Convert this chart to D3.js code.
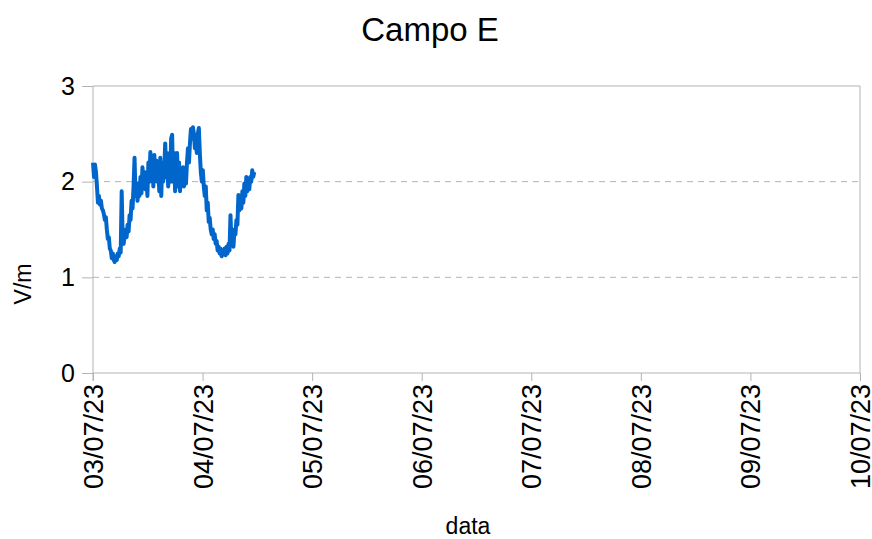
<!DOCTYPE html>
<html>
<head>
<meta charset="utf-8">
<script src="https://cdn.jsdelivr.net/npm/d3@7"></script>
<style>
  body { margin: 0; background: #fff; }
  svg text { font-family: "Liberation Sans", Arial, sans-serif; fill: #000; }
</style>
</head>
<body>
<svg id="chart" width="872" height="539"></svg>
<script>
// logger start and sampling step (minutes)
const startTime = new Date(2023, 6, 3, 0, 0);
const stepMinutes = 13;

// field values V/m, one per sample
const values = [
  2.2, 2.05, 2.18, 2.1, 1.95, 1.78, 1.85, 1.76, 1.8, 1.72,
  1.7, 1.66, 1.6, 1.63, 1.5, 1.4, 1.42, 1.3, 1.28, 1.2,
  1.25, 1.18, 1.16, 1.22, 1.18, 1.25, 1.22, 1.3, 1.26, 1.9,
  1.4, 1.35, 1.45, 1.5, 1.42, 1.55, 1.48, 1.65, 1.6, 1.8,
  1.72, 1.95, 2.25, 1.85, 1.92, 1.8, 1.98, 1.85, 2.05, 1.88,
  2.15, 2.0, 2.1, 1.92, 2.05, 1.85, 2.2, 2.0, 2.31, 2.1,
  2.2, 1.95, 2.28, 2.05, 2.22, 2.0, 2.15, 1.9, 2.25, 1.85,
  2.2, 2.0, 2.12, 2.4, 2.05, 2.3, 1.95, 2.2, 2.0, 2.45,
  2.49, 2.0, 2.3, 1.9, 2.15, 2.3, 1.95, 2.2, 1.9, 2.1,
  2.0, 2.15, 1.95, 2.1, 1.98, 2.2, 2.35, 2.2, 2.4, 2.55,
  2.45, 2.57, 2.5, 2.35, 2.4, 2.3, 2.5, 2.56, 2.3, 2.1,
  2.0, 2.12, 1.95, 1.85, 1.95, 1.7, 1.78, 1.58, 1.62, 1.5,
  1.45, 1.5, 1.4, 1.45, 1.35, 1.38, 1.28, 1.32, 1.25, 1.3,
  1.22, 1.28, 1.24, 1.3, 1.23, 1.32, 1.25, 1.35, 1.28, 1.65,
  1.35, 1.4, 1.32, 1.5, 1.45, 1.6, 1.55, 1.86, 1.7, 1.8,
  1.72, 1.9, 1.78, 1.98, 1.85, 2.05, 1.9, 2.0, 1.92, 2.05,
  2.0, 2.12, 2.05, 2.1
];

const yTicks = [0, 1, 2, 3];
const xTickDays = ["2023-07-03", "2023-07-04", "2023-07-05", "2023-07-06",
  "2023-07-07", "2023-07-08", "2023-07-09", "2023-07-10"];

const data = values.map((v, i) => ({
  t: new Date(startTime.getTime() + i * stepMinutes * 60000),
  v: v
}));

const plotLeft = 93, plotRight = 860, plotTop = 86, plotBottom = 373;
const svg = d3.select("#chart");

const x = d3.scaleTime()
  .domain([new Date(2023, 6, 3), new Date(2023, 6, 10)])
  .range([plotLeft, plotRight]);

const y = d3.scaleLinear()
  .domain([0, 3])
  .range([plotBottom, plotTop]);

// horizontal grid (dashed at 1 and 2, solid frame at 3)
svg.append("g")
  .selectAll("line")
  .data(yTicks.filter(d => d > 0))
  .enter()
  .append("line")
  .attr("x1", plotLeft)
  .attr("x2", plotRight)
  .attr("y1", d => y(d))
  .attr("y2", d => y(d))
  .attr("stroke", "#b3b3b3")
  .attr("stroke-width", 1)
  .attr("stroke-dasharray", d => d === 3 ? null : "6,5");

// right frame
svg.append("line")
  .attr("x1", plotRight).attr("x2", plotRight)
  .attr("y1", plotTop).attr("y2", plotBottom)
  .attr("stroke", "#b3b3b3");

// y axis
const yAxis = svg.append("g")
  .attr("transform", "translate(" + plotLeft + ",0)")
  .call(d3.axisLeft(y).tickValues(yTicks).tickSize(11).tickPadding(7).tickFormat(d3.format("d")));
yAxis.select(".domain").attr("stroke", "#b3b3b3").attr("d", "M0," + plotTop + "V" + (plotBottom + 8));
yAxis.selectAll(".tick line").attr("stroke", "#b3b3b3");
yAxis.selectAll("text").attr("font-size", 25).attr("font-family", "Liberation Sans, Arial, sans-serif");

// x axis
const parseDay = d3.timeParse("%Y-%m-%d");
const xAxis = svg.append("g")
  .attr("transform", "translate(0," + plotBottom + ")")
  .call(d3.axisBottom(x).tickValues(xTickDays.map(parseDay)).tickSize(8).tickFormat(d3.timeFormat("%d/%m/%y")));
xAxis.select(".domain").attr("stroke", "#b3b3b3").attr("d", "M" + plotLeft + ",0H" + plotRight);
xAxis.selectAll(".tick line").attr("stroke", "#b3b3b3");
xAxis.selectAll("text")
  .attr("font-size", 27)
  .attr("font-family", "Liberation Sans, Arial, sans-serif")
  .attr("transform", "rotate(-90)")
  .attr("x", -11)
  .attr("y", 0)
  .attr("dy", "0.35em")
  .style("text-anchor", "end");

// data line
svg.append("path")
  .datum(data)
  .attr("fill", "none")
  .attr("stroke", "#0066cc")
  .attr("stroke-width", 4)
  .attr("stroke-linejoin", "round")
  .attr("d", d3.line().x(d => x(d.t)).y(d => y(d.v)));

// title and axis titles
svg.append("text")
  .attr("x", 430).attr("y", 41)
  .attr("text-anchor", "middle")
  .attr("font-size", 33)
  .text("Campo E");

svg.append("text")
  .attr("transform", "translate(31,284)rotate(-90)")
  .attr("text-anchor", "middle")
  .attr("font-size", 23)
  .text("V/m");

svg.append("text")
  .attr("x", 468).attr("y", 534)
  .attr("text-anchor", "middle")
  .attr("font-size", 23)
  .text("data");
</script>
</body>
</html>
